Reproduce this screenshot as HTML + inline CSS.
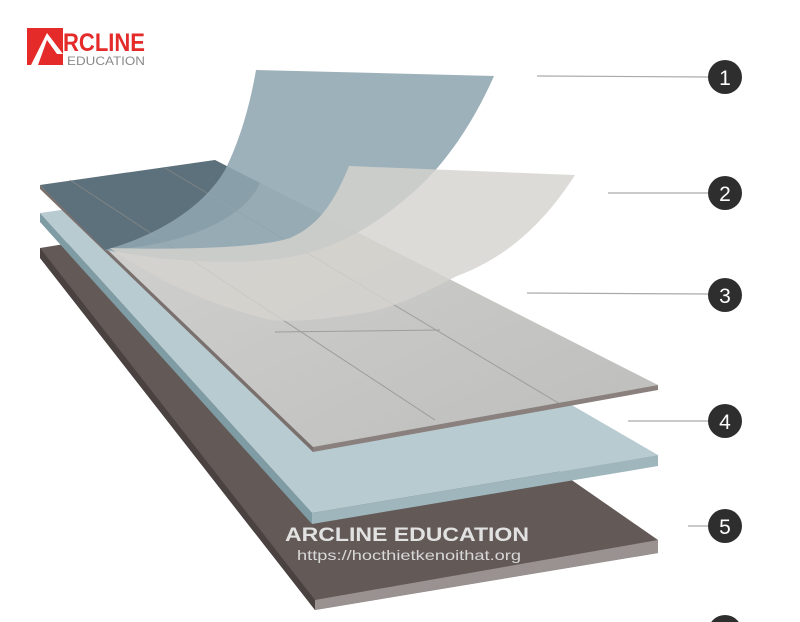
<!DOCTYPE html>
<html><head><meta charset="utf-8"><style>
html,body{margin:0;padding:0;background:#fff;}
svg{display:block;}
</style></head><body>
<svg width="800" height="622" viewBox="0 0 800 622" xmlns="http://www.w3.org/2000/svg">
<defs>
<linearGradient id="wood" x1="0" y1="0" x2="1" y2="1">
<stop offset="0" stop-color="#d4d4d2"/><stop offset="1" stop-color="#bdbdbb"/>
</linearGradient>
</defs>
<!-- logo -->
<rect x="27" y="28" width="36" height="37" fill="#e52a2a"/>
<path d="M31,65 L47,33 L63,54 L57,54 L47,40 L38,65 Z" fill="#fff"/>
<text x="63" y="51" font-family="Liberation Sans, sans-serif" font-weight="bold" font-size="25" fill="#e52a2a" textLength="82" lengthAdjust="spacingAndGlyphs">RCLINE</text>
<text x="67" y="65" font-family="Liberation Sans, sans-serif" font-size="12" fill="#8a8a8a" textLength="78" lengthAdjust="spacingAndGlyphs">EDUCATION</text>

<!-- brown base layer -->
<polygon points="40,248 200,222 658,540 658,553 315,610 40,258" fill="#635a57"/>
<polygon points="315,600 658,540 658,553 315,610" fill="#9a9290"/>
<polygon points="40,248 315,600 315,610 40,258" fill="#4a4240"/>

<!-- blue layer -->
<polygon points="40,213 200,190 658,455 312,513" fill="#b8cbd0"/>
<polygon points="312,513 658,455 658,466 312,524" fill="#9fb6bd"/>
<polygon points="40,213 312,513 312,524 40,222" fill="#7f9ca5"/>

<!-- wood layer -->
<polygon points="40,185 215,160 658,385 313,447" fill="url(#wood)"/>
<polygon points="313,447 658,385 658,390 313,452" fill="#8a807d"/>
<polygon points="40,185 313,447 313,452 40,189" fill="#7a706d"/>
<path d="M40,185 L215,160 L260,183 C245,218 185,246 105,250 Z" fill="#5c717b"/>
<g stroke="#8c8c8c" stroke-width="1" fill="none" opacity="0.7">
<line x1="70" y1="180" x2="435" y2="420"/>
<line x1="165" y1="168" x2="560" y2="404"/>
<line x1="275" y1="332" x2="440" y2="330"/>
</g>

<!-- film 1 -->
<path d="M256,70 L494,76 C470,130 440,170 410,195 C370,230 330,250 290,257 C240,266 170,262 105,250 C160,235 205,205 225,170 C240,140 250,105 256,70 Z" fill="#8fa6b0" opacity="0.88"/>
<!-- film 2 -->
<path d="M349,166 L575,175 C540,230 500,260 457,276 C420,295 390,310 357,314 C320,320 290,322 270,320 C230,310 200,297 190,293 C160,280 130,262 110,248 C180,250 260,248 290,238 C320,225 335,200 349,166 Z" fill="#d6d3ce" opacity="0.82"/>

<!-- watermark -->
<text x="285" y="541" font-family="Liberation Sans, sans-serif" font-weight="bold" font-size="19" fill="#e2e2e2" textLength="244" lengthAdjust="spacingAndGlyphs">ARCLINE EDUCATION</text>
<text x="297" y="560" font-family="Liberation Sans, sans-serif" font-size="14" fill="#d8d8d8" textLength="224" lengthAdjust="spacingAndGlyphs">https://hocthietkenoithat.org</text>

<!-- callouts -->
<g stroke="#aaa" stroke-width="1.2">
<line x1="537" y1="76" x2="708" y2="77"/>
<line x1="608" y1="193" x2="708" y2="193"/>
<line x1="527" y1="293" x2="708" y2="294"/>
<line x1="628" y1="421" x2="708" y2="421"/>
<line x1="688" y1="526" x2="708" y2="526"/>
</g>
<g fill="#2e2e2e">
<circle cx="725" cy="77" r="17"/>
<circle cx="725" cy="193" r="17"/>
<circle cx="725" cy="295" r="17"/>
<circle cx="725" cy="421" r="17"/>
<circle cx="725" cy="526" r="17"/>
<circle cx="725" cy="632" r="17"/>
</g>
<g font-family="Liberation Sans, sans-serif" font-size="21" fill="#fff" text-anchor="middle">
<text x="725" y="85">1</text>
<text x="725" y="201">2</text>
<text x="725" y="303">3</text>
<text x="725" y="429">4</text>
<text x="725" y="534">5</text>
</g>
</svg>
</body></html>
